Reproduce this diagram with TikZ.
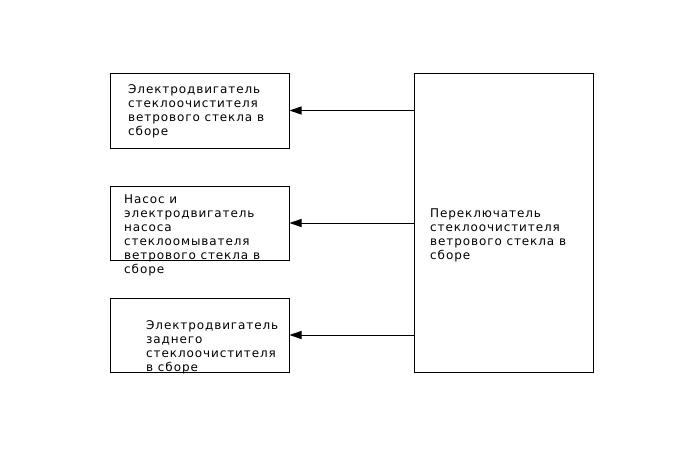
\documentclass[tikz,border=0pt]{standalone}
\usepackage{fontspec}
\setmainfont[LetterSpace=7.5]{DejaVu Sans}
\usetikzlibrary{arrows.meta}

\tikzset{
  unit/.style={draw, line width=1pt, minimum width=179pt, minimum height=75pt, inner sep=0pt},
  lbl/.style={anchor=base west, align=left, inner sep=0pt, font=\fontsize{12}{14}\selectfont},
  feed/.style={line width=1pt, -{Triangle[length=12pt,width=8pt]}}
}

\begin{document}
\begin{tikzpicture}[x=1pt, y=-1pt]
  \useasboundingbox (0,0) rectangle (688,463);
  % units on the left
  \node[unit] (wiper) at (199.5,110.5) {};
  \node[unit, minimum height=74pt] (pump) at (199.5,223) {};
  \node[unit, minimum height=74pt] (rear) at (199.5,335) {};
  % switch on the right
  \node[unit, minimum height=299pt] (switch) at (503.5,222.5) {};
  % labels, placed at the baseline of their last line
  \node[lbl] (twiper) at (128,135) {Электродвигатель\\стеклоочистителя\\ветрового стекла в\\сборе};
  \node[lbl] (tpump) at (124,273) {Насос и\\электродвигатель\\насоса\\стеклоомывателя\\ветрового стекла в\\сборе};
  \node[lbl] (trear) at (146,371) {Электродвигатель\\заднего\\стеклоочистителя\\в сборе};
  \node[lbl] (tswitch) at (430,259) {Переключатель\\стеклоочистителя\\ветрового стекла в\\сборе};
  % connections
  \draw[feed] (switch.west |- wiper.east) -- (wiper.east);
  \draw[feed] (switch.west |- pump.east) -- (pump.east);
  \draw[feed] (switch.west |- rear.east) -- (rear.east);
\end{tikzpicture}
\end{document}
